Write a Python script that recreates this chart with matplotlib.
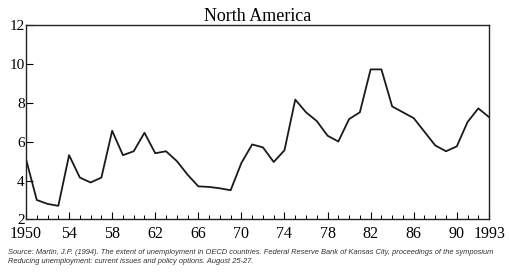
import matplotlib
matplotlib.use("Agg")
import matplotlib.pyplot as plt
from matplotlib.ticker import MultipleLocator

years = list(range(1950, 1994))
unemployment = [5.1, 3.0, 2.8, 2.7, 5.3, 4.15, 3.9, 4.15, 6.55, 5.3,
                5.5, 6.45, 5.4, 5.5, 5.0, 4.3, 3.7, 3.67, 3.6, 3.5,
                4.9, 5.85, 5.7, 4.95, 5.55, 8.15, 7.5, 7.05, 6.3, 6.0,
                7.15, 7.5, 9.7, 9.7, 7.8, 7.5, 7.2, 6.5, 5.8, 5.5,
                5.75, 7.0, 7.7, 7.25]

xticks = [1950, 1954, 1958, 1962, 1966, 1970, 1974, 1978, 1982, 1986, 1990, 1993]
xticklabels = ["1950", "54", "58", "62", "66", "70", "74", "78", "82", "86", "90", "1993"]
yticks = [2, 4, 6, 8, 10, 12]

source = ("Source: Martin, J.P. (1994). The extent of unemployment in OECD countries. "
          "Federal Reserve Bank of Kansas City, proceedings of the symposium\n"
          "Reducing unemployment: current issues and policy options. August 25-27.")

serif = ["Liberation Serif", "DejaVu Serif"]

fig = plt.figure(figsize=(5.1, 2.73), dpi=100)
ax = fig.add_axes([0.051, 0.196, 0.908, 0.714])

ax.plot(years, unemployment, color="#1a1a1a", linewidth=1.3)

ax.set_xlim(1950, 1993)
ax.set_ylim(2, 12)
ax.set_xticks(xticks)
ax.set_xticklabels(xticklabels, family=serif, fontsize=11.5)
ax.xaxis.set_minor_locator(MultipleLocator(1))
ax.set_yticks(yticks)
ax.set_yticklabels([str(v) for v in yticks], family=serif, fontsize=11)

ax.tick_params(axis="x", which="major", direction="in", length=5, width=0.8, pad=5)
ax.tick_params(axis="x", which="minor", direction="in", length=3, width=0.7)
ax.tick_params(axis="y", direction="in", length=5, width=0.8, pad=1)
for sp in ax.spines.values():
    sp.set_linewidth(1.0)
    sp.set_color("#222222")

ax.set_title("North America", family=serif, fontsize=13, pad=1)

fig.text(0.016, 0.03, source, fontsize=5.4, style="italic", family="Liberation Sans",
         color="#333333", linespacing=1.3, ha="left", va="bottom")

fig.savefig("out.png", dpi=100)
